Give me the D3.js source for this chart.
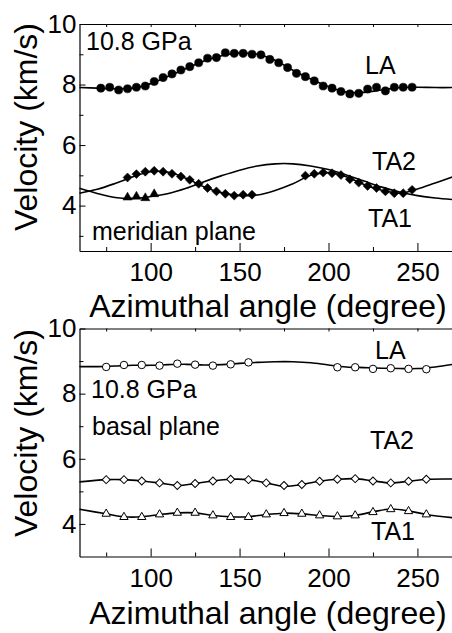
<!DOCTYPE html>
<html>
<head>
<meta charset="utf-8">
<script src="https://cdn.jsdelivr.net/npm/d3@7"></script>
<style>
  html, body { margin: 0; padding: 0; background: #fff; }
  svg { display: block; }
  text { font-family: "Liberation Sans", Arial, sans-serif; fill: #000; }
</style>
</head>
<body>
<svg id="chart" width="452" height="633"></svg>
<script>
// ---------------- DATA ----------------
// x ticks
const xMajorTicks = [100, 150, 200, 250];
const xMinorTicks = [75, 125, 175, 225];
const yMajorTicks = [4, 6, 8, 10];
const yMinorTicksTop = [3, 5, 7, 9];
const yMinorTicksBottom = [5, 7, 9];

// Top panel: meridian plane (filled symbols)
const laMerAngle = [72,77,82,87,92,97,102,107,112,117,122,127,132,137,142,147,152,157,162,167,172,177,182,187,192,197,202,207,212,217,222,227,232,237,242,247];
const laMerVel   = [7.88,7.91,7.82,7.86,7.91,7.95,8.10,8.23,8.35,8.48,8.59,8.72,8.87,8.89,9.05,9.03,9.03,9.00,8.98,8.83,8.72,8.56,8.37,8.26,8.12,7.95,7.88,7.77,7.69,7.71,7.85,7.91,7.79,7.91,7.91,7.91];

const diaMerAngle = [87,92,97,102,107,112,117,122,127,132,137,142,147,152,157,187,192,197,202,207,212,217,222,227,232,237,242,247];
const diaMerVel   = [4.93,5.04,5.12,5.15,5.12,5.05,4.96,4.85,4.72,4.58,4.47,4.39,4.33,4.36,4.36,4.99,5.05,5.09,5.07,5.01,4.87,4.76,4.65,4.58,4.47,4.41,4.41,4.52];

const triMerAngle = [87,92,97,102];
const triMerVel   = [4.27,4.30,4.25,4.38];

// fitted curves, top panel
const fitMerAngle = [60,70,80,90,100,110,120,130,140,150,160,170,180,190,200,210,220,230,240,250,260,270];
const laMerFit    = [7.90,7.88,7.86,7.88,8.03,8.27,8.53,8.78,8.95,9.04,9.00,8.80,8.47,8.18,7.93,7.75,7.74,7.82,7.90,7.91,7.90,7.90];
const humpMerFit  = [4.57,4.40,4.27,4.24,4.30,4.40,4.57,4.79,4.99,5.17,5.31,5.38,5.38,5.31,5.19,5.01,4.81,4.61,4.45,4.33,4.25,4.20];
const waveMerFit  = [4.41,4.54,4.73,4.95,5.12,5.10,4.90,4.62,4.42,4.33,4.35,4.50,4.72,5.00,5.09,4.95,4.70,4.51,4.41,4.55,4.75,4.95];

// Bottom panel: basal plane (open symbols)
const laBasAngle = [75,85,95,105,115,125,135,145,155,205,215,225,235,245,255];
const laBasVel   = [8.82,8.88,8.88,8.86,8.92,8.89,8.86,8.90,8.96,8.81,8.81,8.76,8.78,8.76,8.75];

const basAngle   = [75,85,95,105,115,125,135,145,155,165,175,185,195,205,215,225,235,245,255];
const ta2BasVel  = [5.36,5.36,5.32,5.26,5.18,5.24,5.32,5.37,5.36,5.26,5.18,5.21,5.31,5.37,5.39,5.32,5.26,5.31,5.37];
const ta1BasVel  = [4.31,4.21,4.21,4.29,4.34,4.34,4.26,4.21,4.21,4.29,4.33,4.31,4.26,4.23,4.26,4.36,4.45,4.39,4.29];

// fitted curves, bottom panel
const laBasFitAngle = [60,70,80,90,100,110,120,130,140,150,160,170,180,190,200,210,220,230,240,250,260,270];
const laBasFit      = [8.83,8.83,8.85,8.87,8.87,8.89,8.90,8.88,8.89,8.93,8.96,8.98,8.98,8.95,8.88,8.82,8.80,8.78,8.77,8.77,8.82,8.90];
const taBasFitAngle = [60,75,85,95,105,115,125,135,145,155,165,175,185,195,205,215,225,235,245,255,270];
const ta2BasFit     = [5.29,5.36,5.36,5.32,5.26,5.18,5.24,5.32,5.37,5.36,5.26,5.16,5.21,5.31,5.37,5.39,5.32,5.26,5.31,5.37,5.38];
const ta1BasFit     = [4.45,4.31,4.22,4.22,4.29,4.34,4.34,4.26,4.22,4.22,4.29,4.33,4.31,4.26,4.23,4.26,4.37,4.46,4.40,4.29,4.19];

// ---------------- DRAWING ----------------
const FONT = '"Liberation Sans", Arial, sans-serif';
const svg = d3.select('#chart');

const x = d3.scaleLinear().domain([60, 270]).range([79.5, 453]);

function zip(a, b) { return a.map((v, i) => [v, b[i]]); }

function drawPanel(cfg) {
  const y = d3.scaleLinear().domain(cfg.yDomain).range(cfg.yRange);
  const g = svg.append('g');
  const yBottom = cfg.yRange[0], yTop = cfg.yRange[1];

  // bottom axis (major with labels)
  const bx = g.append('g').attr('transform', `translate(0,${yBottom})`)
    .call(d3.axisBottom(x).tickValues(xMajorTicks).tickFormat(d3.format('d'))
      .tickSizeInner(-8).tickSizeOuter(0).tickPadding(12));
  const bxm = g.append('g').attr('transform', `translate(0,${yBottom})`)
    .call(d3.axisBottom(x).tickValues(xMinorTicks).tickSizeInner(-4).tickSizeOuter(0).tickFormat(''));
  bxm.select('.domain').remove();

  // top axis
  const tx = g.append('g').attr('transform', `translate(0,${yTop})`)
    .call(d3.axisTop(x).tickValues(xMajorTicks.concat(xMinorTicks)).tickSizeInner(-3).tickSizeOuter(0).tickFormat(''));

  // left axis
  const ly = g.append('g').attr('transform', `translate(${x.range()[0]},0)`)
    .call(d3.axisLeft(y).tickValues(yMajorTicks).tickFormat(d3.format('d'))
      .tickSizeInner(-6).tickSizeOuter(0).tickPadding(3));
  const lym = g.append('g').attr('transform', `translate(${x.range()[0]},0)`)
    .call(d3.axisLeft(y).tickValues(cfg.yMinor).tickSizeInner(-4).tickSizeOuter(0).tickFormat(''));
  lym.select('.domain').remove();

  g.selectAll('.tick line').attr('stroke', '#000').attr('stroke-width', 1);
  g.selectAll('.domain').attr('stroke', '#000').attr('stroke-width', 1.2);
  g.selectAll('.tick text').attr('font-family', FONT).attr('font-size', 26).attr('fill', '#000');
  [bx, bxm, tx, ly, lym].forEach(a => a.attr('font-family', FONT).attr('font-size', 26));

  // curves
  const line = d3.line().x(d => x(d[0])).y(d => y(d[1])).curve(d3.curveCatmullRom.alpha(0.5));
  cfg.curves.forEach(c => {
    g.append('path').datum(zip(c[0], c[1]))
      .attr('d', line).attr('fill', 'none').attr('stroke', '#000').attr('stroke-width', 1.6);
  });

  // markers
  cfg.series.forEach(s => {
    const sym = d3.symbol().type(s.type).size(s.size);
    g.append('g').selectAll('path').data(zip(s.a, s.v)).join('path')
      .attr('d', sym)
      .attr('transform', d => `translate(${x(d[0])},${y(d[1])})` + (s.rotate ? ' rotate(45)' : ''))
      .attr('fill', s.open ? '#fff' : '#000')
      .attr('stroke', '#000').attr('stroke-width', s.open ? 1 : 0.5);
  });

  // annotations
  cfg.labels.forEach(l => {
    g.append('text').attr('x', l.x).attr('y', l.y).attr('font-size', l.size || 25).text(l.t);
  });

  // axis titles
  g.append('text').attr('transform', `translate(37,${cfg.yTitleC}) rotate(-90)`)
    .attr('text-anchor', 'middle').attr('font-size', 32).text('Velocity (km/s)');
  g.append('text').attr('x', 268).attr('y', cfg.xTitleY)
    .attr('text-anchor', 'middle').attr('font-size', 32).text('Azimuthal angle (degree)');
}

drawPanel({
  yDomain: [2.5, 10], yRange: [251, 24], yMinor: yMinorTicksTop,
  curves: [[fitMerAngle, laMerFit], [fitMerAngle, humpMerFit], [fitMerAngle, waveMerFit]],
  series: [
    { a: laMerAngle, v: laMerVel, type: d3.symbolCircle, size: 52, open: false },
    { a: diaMerAngle, v: diaMerVel, type: d3.symbolSquare, size: 40, open: false, rotate: true },
    { a: triMerAngle, v: triMerVel, type: d3.symbolTriangle, size: 36, open: false }
  ],
  labels: [
    { t: '10.8 GPa', x: 86, y: 50 },
    { t: 'LA', x: 365, y: 74 },
    { t: 'TA2', x: 372, y: 170 },
    { t: 'TA1', x: 368, y: 227 },
    { t: 'meridian plane', x: 92, y: 240 }
  ],
  yTitleC: 127, xTitleY: 317
});

drawPanel({
  yDomain: [3, 10], yRange: [556.5, 328.5], yMinor: yMinorTicksBottom,
  curves: [[laBasFitAngle, laBasFit], [taBasFitAngle, ta2BasFit], [taBasFitAngle, ta1BasFit]],
  series: [
    { a: laBasAngle, v: laBasVel, type: d3.symbolCircle, size: 44, open: true },
    { a: basAngle, v: ta2BasVel, type: d3.symbolSquare, size: 32, open: true, rotate: true },
    { a: basAngle, v: ta1BasVel, type: d3.symbolTriangle, size: 30, open: true }
  ],
  labels: [
    { t: 'LA', x: 375, y: 359 },
    { t: '10.8 GPa', x: 91, y: 398 },
    { t: 'basal plane', x: 92, y: 435 },
    { t: 'TA2', x: 370, y: 449 },
    { t: 'TA1', x: 371, y: 540 }
  ],
  yTitleC: 433, xTitleY: 624
});
</script>
</body>
</html>
